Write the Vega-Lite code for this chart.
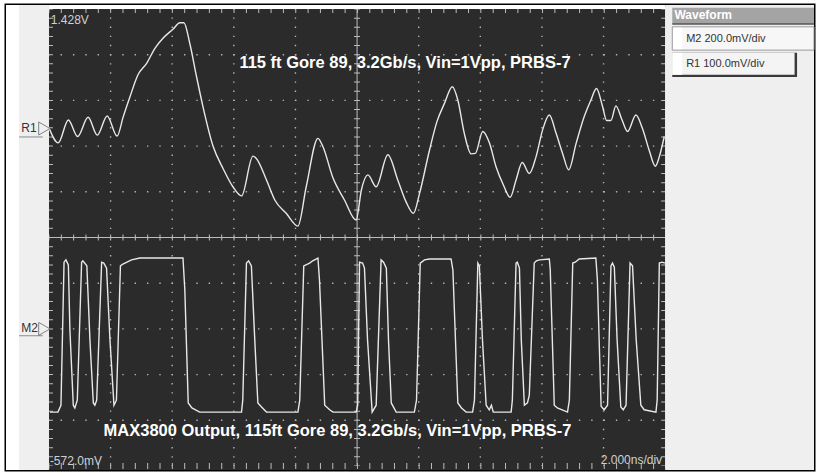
{
 "$schema": "https://vega.github.io/schema/vega-lite/v6.json",
 "width": 827, "height": 475,
 "autosize": {"type": "fit", "contains": "padding"},
 "padding": {"left": 6, "top": 5, "right": 12, "bottom": 5},
 "background": "#ffffff",
 "config": {"view": {"stroke": "#000000", "strokeWidth": 3, "fill": "#efefef"}, "axis": {"disable": true}},
 "data": {"values": [{}]},
 "datasets": {
  "r1": [
   {"t":0.0,"v":7.40},{"t":0.30,"v":7.07},{"t":0.63,"v":7.57},{"t":0.93,"v":7.21},{"t":1.27,"v":7.63},{"t":1.57,"v":7.24},{"t":1.89,"v":7.66},{"t":2.21,"v":7.22},{"t":2.41,"v":7.64},{"t":2.63,"v":8.08},{"t":2.89,"v":8.56},{"t":3.17,"v":8.81},{"t":3.44,"v":9.14},{"t":3.70,"v":9.36},{"t":4.03,"v":9.56},{"t":4.25,"v":9.70},{"t":4.38,"v":9.70},{"t":4.57,"v":9.25},{"t":4.79,"v":8.52},{"t":5.00,"v":7.86},{"t":5.33,"v":6.99},{"t":5.65,"v":6.51},{"t":5.97,"v":6.11},{"t":6.25,"v":5.91},{"t":6.62,"v":6.78},{"t":6.73,"v":6.73},{"t":7.06,"v":6.26},{"t":7.33,"v":5.82},{"t":7.70,"v":5.53},{"t":8.08,"v":5.25},{"t":8.35,"v":6.11},{"t":8.73,"v":7.17},{"t":8.89,"v":6.99},{"t":9.22,"v":6.30},{"t":9.59,"v":5.82},{"t":9.97,"v":5.38},{"t":10.14,"v":6.04},{"t":10.35,"v":6.37},{"t":10.62,"v":6.11},{"t":11.00,"v":6.81},{"t":11.32,"v":6.26},{"t":11.59,"v":5.78},{"t":11.83,"v":5.53},{"t":12.03,"v":5.97},{"t":12.35,"v":6.91},{"t":12.59,"v":7.53},{"t":12.84,"v":7.94},{"t":13.09,"v":8.30},{"t":13.27,"v":8.01},{"t":13.48,"v":7.28},{"t":13.70,"v":6.83},{"t":13.84,"v":6.84},{"t":14.08,"v":7.32},{"t":14.30,"v":7.06},{"t":14.51,"v":6.55},{"t":14.75,"v":6.15},{"t":14.97,"v":5.88},{"t":15.16,"v":6.26},{"t":15.36,"v":6.64},{"t":15.59,"v":6.40},{"t":15.81,"v":6.77},{"t":16.02,"v":7.35},{"t":16.24,"v":7.68},{"t":16.46,"v":7.28},{"t":16.67,"v":6.84},{"t":16.87,"v":6.48},{"t":17.11,"v":7.06},{"t":17.37,"v":7.64},{"t":17.59,"v":8.01},{"t":17.77,"v":8.26},{"t":17.97,"v":7.86},{"t":18.10,"v":7.56},{"t":18.24,"v":7.56},{"t":18.40,"v":7.88},{"t":18.60,"v":7.57},{"t":18.78,"v":7.32},{"t":19.05,"v":7.68},{"t":19.26,"v":7.39},{"t":19.48,"v":6.91},{"t":19.68,"v":6.56},{"t":19.81,"v":6.77},{"t":19.97,"v":7.21}
  ],
  "m2": [
   {"t":0.03,"v":1.18},{"t":0.29,"v":1.18},{"t":0.39,"v":1.33},{"t":0.49,"v":4.46},{"t":0.55,"v":4.51},{"t":0.63,"v":4.40},{"t":0.68,"v":2.98},{"t":0.79,"v":1.33},{"t":0.84,"v":1.27},{"t":0.92,"v":1.44},{"t":1.06,"v":4.46},{"t":1.10,"v":4.49},{"t":1.23,"v":4.38},{"t":1.33,"v":2.76},{"t":1.44,"v":1.38},{"t":1.49,"v":1.33},{"t":1.55,"v":1.44},{"t":1.71,"v":4.46},{"t":1.78,"v":4.44},{"t":1.87,"v":4.33},{"t":1.98,"v":2.76},{"t":2.11,"v":1.33},{"t":2.19,"v":1.44},{"t":2.32,"v":4.38},{"t":2.40,"v":4.42},{"t":2.68,"v":4.51},{"t":2.95,"v":4.55},{"t":4.35,"v":4.55},{"t":4.41,"v":3.85},{"t":4.52,"v":1.38},{"t":4.64,"v":1.27},{"t":4.89,"v":1.18},{"t":6.25,"v":1.18},{"t":6.29,"v":1.44},{"t":6.41,"v":4.44},{"t":6.48,"v":4.49},{"t":6.57,"v":4.38},{"t":6.68,"v":2.76},{"t":6.78,"v":1.38},{"t":6.90,"v":1.29},{"t":7.06,"v":1.18},{"t":8.08,"v":1.18},{"t":8.14,"v":1.44},{"t":8.27,"v":4.38},{"t":8.46,"v":4.44},{"t":8.56,"v":4.49},{"t":8.73,"v":4.55},{"t":8.78,"v":4.07},{"t":8.95,"v":1.33},{"t":9.11,"v":1.23},{"t":9.22,"v":1.18},{"t":9.97,"v":1.18},{"t":10.02,"v":1.33},{"t":10.08,"v":4.46},{"t":10.18,"v":4.44},{"t":10.24,"v":4.33},{"t":10.34,"v":2.76},{"t":10.49,"v":1.18},{"t":10.62,"v":1.33},{"t":10.78,"v":4.51},{"t":10.86,"v":4.46},{"t":10.95,"v":4.33},{"t":11.02,"v":2.76},{"t":11.11,"v":1.38},{"t":11.27,"v":1.18},{"t":11.86,"v":1.18},{"t":11.93,"v":1.44},{"t":12.05,"v":4.44},{"t":12.19,"v":4.51},{"t":12.35,"v":4.53},{"t":13.05,"v":4.53},{"t":13.11,"v":4.29},{"t":13.27,"v":1.38},{"t":13.39,"v":1.27},{"t":13.54,"v":1.18},{"t":13.75,"v":1.18},{"t":13.81,"v":1.44},{"t":13.92,"v":4.44},{"t":13.97,"v":4.38},{"t":14.07,"v":2.76},{"t":14.19,"v":1.33},{"t":14.29,"v":1.23},{"t":14.36,"v":1.33},{"t":14.42,"v":1.18},{"t":15.00,"v":1.18},{"t":15.04,"v":1.44},{"t":15.16,"v":4.44},{"t":15.20,"v":4.46},{"t":15.27,"v":4.33},{"t":15.33,"v":2.76},{"t":15.43,"v":1.33},{"t":15.53,"v":1.38},{"t":15.59,"v":1.55},{"t":15.75,"v":4.44},{"t":15.82,"v":4.49},{"t":15.92,"v":4.51},{"t":16.24,"v":4.53},{"t":16.27,"v":4.29},{"t":16.40,"v":1.33},{"t":16.50,"v":1.27},{"t":16.83,"v":1.18},{"t":16.89,"v":1.44},{"t":17.00,"v":4.44},{"t":17.08,"v":4.46},{"t":17.21,"v":4.53},{"t":17.75,"v":4.55},{"t":17.80,"v":4.07},{"t":17.92,"v":1.31},{"t":18.02,"v":1.23},{"t":18.13,"v":1.33},{"t":18.24,"v":4.38},{"t":18.29,"v":4.44},{"t":18.35,"v":4.35},{"t":18.44,"v":2.76},{"t":18.56,"v":1.29},{"t":18.64,"v":1.23},{"t":18.73,"v":1.33},{"t":18.86,"v":4.44},{"t":18.94,"v":4.38},{"t":19.06,"v":2.76},{"t":19.21,"v":1.33},{"t":19.32,"v":1.23},{"t":19.70,"v":1.18},{"t":19.74,"v":1.44},{"t":19.81,"v":4.44},{"t":19.90,"v":4.46},{"t":19.99,"v":4.44}
  ],
  "vgrid": [{"g":2},{"g":4},{"g":6},{"g":8},{"g":12},{"g":14},{"g":16},{"g":18}],
  "hgrid": [{"g":1},{"g":2},{"g":3},{"g":4},{"g":6},{"g":7},{"g":8},{"g":9}]
 },
 "layer": [
  {"mark": {"type": "rect", "fill": "#ffffff"},
   "encoding": {"x": {"datum": -1.394, "type": "quantitative", "scale": {"domain": [-1.394, 24.83], "nice": false, "zero": false}}, "x2": {"datum": -0.972},
                "y": {"datum": -0.0875, "type": "quantitative", "scale": {"domain": [-0.0875, 10.0875], "nice": false, "zero": false}}, "y2": {"datum": 10.0875}}},
  {"mark": {"type": "rect", "fill": "#2b2b2b"},
   "encoding": {"x": {"datum": 0, "type": "quantitative"}, "x2": {"datum": 20}, "y": {"datum": -0.0875, "type": "quantitative"}, "y2": {"datum": 10}}},
  {"data": {"name": "vgrid"},
   "mark": {"type": "rule", "stroke": "#b4b4b4", "strokeWidth": 1.4, "strokeDash": [1.4, 7.74], "strokeDashOffset": 0.7},
   "encoding": {"x": {"field": "g", "type": "quantitative"}, "y": {"datum": 0, "type": "quantitative"}, "y2": {"datum": 10}}},
  {"data": {"name": "hgrid"},
   "mark": {"type": "rule", "stroke": "#b4b4b4", "strokeWidth": 1.4, "strokeDash": [1.4, 10.94], "strokeDashOffset": 0.7},
   "encoding": {"y": {"field": "g", "type": "quantitative"}, "x": {"datum": 0, "type": "quantitative"}, "x2": {"datum": 20}}},
  {"mark": {"type": "rule", "stroke": "#bdbdbd", "strokeWidth": 1},
   "encoding": {"x": {"datum": 10, "type": "quantitative"}, "y": {"datum": 0, "type": "quantitative"}, "y2": {"datum": 10}}},
  {"mark": {"type": "rule", "stroke": "#bdbdbd", "strokeWidth": 1},
   "encoding": {"y": {"datum": 5, "type": "quantitative"}, "x": {"datum": 0, "type": "quantitative"}, "x2": {"datum": 20}}},
  {"mark": {"type": "rule", "stroke": "#bdbdbd", "strokeWidth": 6, "strokeDash": [1, 8.14], "strokeDashOffset": 0.5},
   "encoding": {"x": {"datum": 10, "type": "quantitative"}, "y": {"datum": 0, "type": "quantitative"}, "y2": {"datum": 10}}},
  {"mark": {"type": "rule", "stroke": "#bdbdbd", "strokeWidth": 6, "strokeDash": [1, 11.34], "strokeDashOffset": 0.5},
   "encoding": {"y": {"datum": 5, "type": "quantitative"}, "x": {"datum": 0, "type": "quantitative"}, "x2": {"datum": 20}}},
  {"mark": {"type": "rule", "stroke": "#bdbdbd", "strokeWidth": 8, "strokeDash": [1, 8.14], "strokeDashOffset": 0.5},
   "encoding": {"x": {"datum": 0, "type": "quantitative"}, "y": {"datum": 0, "type": "quantitative"}, "y2": {"datum": 10}}},
  {"mark": {"type": "rule", "stroke": "#bdbdbd", "strokeWidth": 8, "strokeDash": [1, 8.14], "strokeDashOffset": 0.5},
   "encoding": {"x": {"datum": 20, "type": "quantitative"}, "y": {"datum": 0, "type": "quantitative"}, "y2": {"datum": 10}}},
  {"mark": {"type": "rule", "stroke": "#bdbdbd", "strokeWidth": 8, "strokeDash": [1, 11.34], "strokeDashOffset": 0.5},
   "encoding": {"y": {"datum": 10, "type": "quantitative"}, "x": {"datum": 0, "type": "quantitative"}, "x2": {"datum": 20}}},
  {"mark": {"type": "rule", "stroke": "#bdbdbd", "strokeWidth": 6, "strokeDash": [1, 11.34], "strokeDashOffset": 0.5},
   "encoding": {"y": {"datum": 0, "type": "quantitative"}, "x": {"datum": 0, "type": "quantitative"}, "x2": {"datum": 20}}},
  {"mark": {"type": "rect", "fill": "#ffffff"},
   "encoding": {"x": {"datum": 0, "type": "quantitative"}, "x2": {"datum": 20}, "y": {"datum": 10, "type": "quantitative"}, "y2": {"datum": 10.0875}}},
  {"mark": {"type": "rect", "fill": "#efefef"},
   "encoding": {"x": {"datum": -0.972, "type": "quantitative"}, "x2": {"datum": 0}, "y": {"datum": -0.0875, "type": "quantitative"}, "y2": {"datum": 10.0875}}},
  {"mark": {"type": "rect", "fill": "#efefef"},
   "encoding": {"x": {"datum": 20, "type": "quantitative"}, "x2": {"datum": 24.83}, "y": {"datum": -0.0875, "type": "quantitative"}, "y2": {"datum": 10.0875}}},
  {"data": {"name": "r1"},
   "mark": {"type": "line", "stroke": "#e8e8e8", "strokeWidth": 1.4, "interpolate": "monotone"},
   "encoding": {"x": {"field": "t", "type": "quantitative"}, "y": {"field": "v", "type": "quantitative"}}},
  {"data": {"name": "m2"},
   "mark": {"type": "line", "stroke": "#e8e8e8", "strokeWidth": 1.4},
   "encoding": {"x": {"field": "t", "type": "quantitative"}, "y": {"field": "v", "type": "quantitative"}}},
  {"mark": {"type": "text", "text": "115 ft Gore 89, 3.2Gb/s, Vin=1Vpp, PRBS-7", "align": "center", "baseline": "middle", "font": "Liberation Sans Narrow, Liberation Sans, sans-serif", "fontWeight": "bold", "fontSize": 16.5, "fill": "#ffffff"},
   "encoding": {"x": {"datum": 11.556, "type": "quantitative"}, "y": {"datum": 8.81, "type": "quantitative"}}},
  {"mark": {"type": "text", "text": "MAX3800 Output, 115ft Gore 89, 3.2Gb/s, Vin=1Vpp, PRBS-7", "align": "center", "baseline": "middle", "font": "Liberation Sans Narrow, Liberation Sans, sans-serif", "fontWeight": "bold", "fontSize": 16.5, "fill": "#ffffff"},
   "encoding": {"x": {"datum": 9.363, "type": "quantitative"}, "y": {"datum": 0.755, "type": "quantitative"}}},
  {"mark": {"type": "text", "text": "1.428V", "align": "left", "baseline": "middle", "font": "Liberation Sans", "fontSize": 12, "fill": "#d0d0d0"},
   "encoding": {"x": {"datum": 0.06, "type": "quantitative"}, "y": {"datum": 9.75, "type": "quantitative"}}},
  {"mark": {"type": "text", "text": "-572.0mV", "align": "left", "baseline": "middle", "font": "Liberation Sans", "fontSize": 12, "fill": "#d0d0d0"},
   "encoding": {"x": {"datum": 0.03, "type": "quantitative"}, "y": {"datum": 0.11, "type": "quantitative"}}},
  {"mark": {"type": "text", "text": "2.000ns/div", "align": "right", "baseline": "middle", "font": "Liberation Sans", "fontSize": 12, "fill": "#d0d0d0"},
   "encoding": {"x": {"datum": 19.9, "type": "quantitative"}, "y": {"datum": 0.13, "type": "quantitative"}}},
  {"mark": {"type": "rect", "fill": "#a4a4a4"},
   "encoding": {"x": {"datum": 20.23, "type": "quantitative"}, "x2": {"datum": 24.83}, "y": {"datum": 9.67, "type": "quantitative"}, "y2": {"datum": 10.03}}},
  {"mark": {"type": "rule", "stroke": "#555555", "strokeWidth": 1.5},
   "encoding": {"x": {"datum": 20.23, "type": "quantitative"}, "x2": {"datum": 24.83}, "y": {"datum": 9.67, "type": "quantitative"}}},
  {"mark": {"type": "text", "text": "Waveform", "align": "left", "baseline": "middle", "font": "Liberation Sans", "fontWeight": "bold", "fontSize": 12, "fill": "#ffffff"},
   "encoding": {"x": {"datum": 20.3, "type": "quantitative"}, "y": {"datum": 9.86, "type": "quantitative"}}},
  {"mark": {"type": "rect", "fill": "#f7f7f7", "stroke": "#9a9a9a", "strokeWidth": 1},
   "encoding": {"x": {"datum": 20.23, "type": "quantitative"}, "x2": {"datum": 24.83}, "y": {"datum": 9.10, "type": "quantitative"}, "y2": {"datum": 9.61}}},
  {"mark": {"type": "rect", "fill": "#ffffff"},
   "encoding": {"x": {"datum": 20.26, "type": "quantitative"}, "x2": {"datum": 20.55}, "y": {"datum": 9.12, "type": "quantitative"}, "y2": {"datum": 9.59}}},
  {"mark": {"type": "text", "text": "M2 200.0mV/div", "align": "left", "baseline": "middle", "font": "Liberation Sans Narrow, Liberation Sans, sans-serif", "fontSize": 11, "fill": "#333333"},
   "encoding": {"x": {"datum": 20.68, "type": "quantitative"}, "y": {"datum": 9.35, "type": "quantitative"}}},
  {"mark": {"type": "rect", "fill": "#3a3a3a"},
   "encoding": {"x": {"datum": 20.23, "type": "quantitative"}, "x2": {"datum": 24.28}, "y": {"datum": 8.51, "type": "quantitative"}, "y2": {"datum": 9.04}}},
  {"mark": {"type": "rect", "fill": "#f4f4f4"},
   "encoding": {"x": {"datum": 20.23, "type": "quantitative"}, "x2": {"datum": 24.2}, "y": {"datum": 8.56, "type": "quantitative"}, "y2": {"datum": 9.04}}},
  {"mark": {"type": "rect", "fill": "#ffffff"},
   "encoding": {"x": {"datum": 20.23, "type": "quantitative"}, "x2": {"datum": 20.55}, "y": {"datum": 8.56, "type": "quantitative"}, "y2": {"datum": 9.04}}},
  {"mark": {"type": "text", "text": "R1 100.0mV/div", "align": "left", "baseline": "middle", "font": "Liberation Sans Narrow, Liberation Sans, sans-serif", "fontSize": 11, "fill": "#333333"},
   "encoding": {"x": {"datum": 20.68, "type": "quantitative"}, "y": {"datum": 8.79, "type": "quantitative"}}},
  {"mark": {"type": "rule", "stroke": "#8a8a8a", "strokeWidth": 1},
   "encoding": {"x": {"datum": -0.97, "type": "quantitative"}, "x2": {"datum": -0.2}, "y": {"datum": 7.2, "type": "quantitative"}}},
  {"mark": {"type": "rule", "stroke": "#8a8a8a", "strokeWidth": 1},
   "encoding": {"x": {"datum": -0.97, "type": "quantitative"}, "x2": {"datum": -0.2}, "y": {"datum": 2.85, "type": "quantitative"}}},
  {"mark": {"type": "text", "text": "R1", "align": "left", "baseline": "middle", "font": "Liberation Sans", "fontSize": 12, "fill": "#333333"},
   "encoding": {"x": {"datum": -0.9, "type": "quantitative"}, "y": {"datum": 7.4, "type": "quantitative"}}},
  {"mark": {"type": "text", "text": "M2", "align": "left", "baseline": "middle", "font": "Liberation Sans", "fontSize": 12, "fill": "#333333"},
   "encoding": {"x": {"datum": -0.9, "type": "quantitative"}, "y": {"datum": 3.02, "type": "quantitative"}}},
  {"mark": {"type": "point", "shape": "triangle-right", "filled": false, "stroke": "#555555", "strokeWidth": 1, "size": 170},
   "encoding": {"x": {"datum": -0.15, "type": "quantitative"}, "y": {"datum": 7.385, "type": "quantitative"}}},
  {"mark": {"type": "point", "shape": "triangle-right", "filled": false, "stroke": "#555555", "strokeWidth": 1, "size": 170},
   "encoding": {"x": {"datum": -0.15, "type": "quantitative"}, "y": {"datum": 3.0, "type": "quantitative"}}}
 ]
}
